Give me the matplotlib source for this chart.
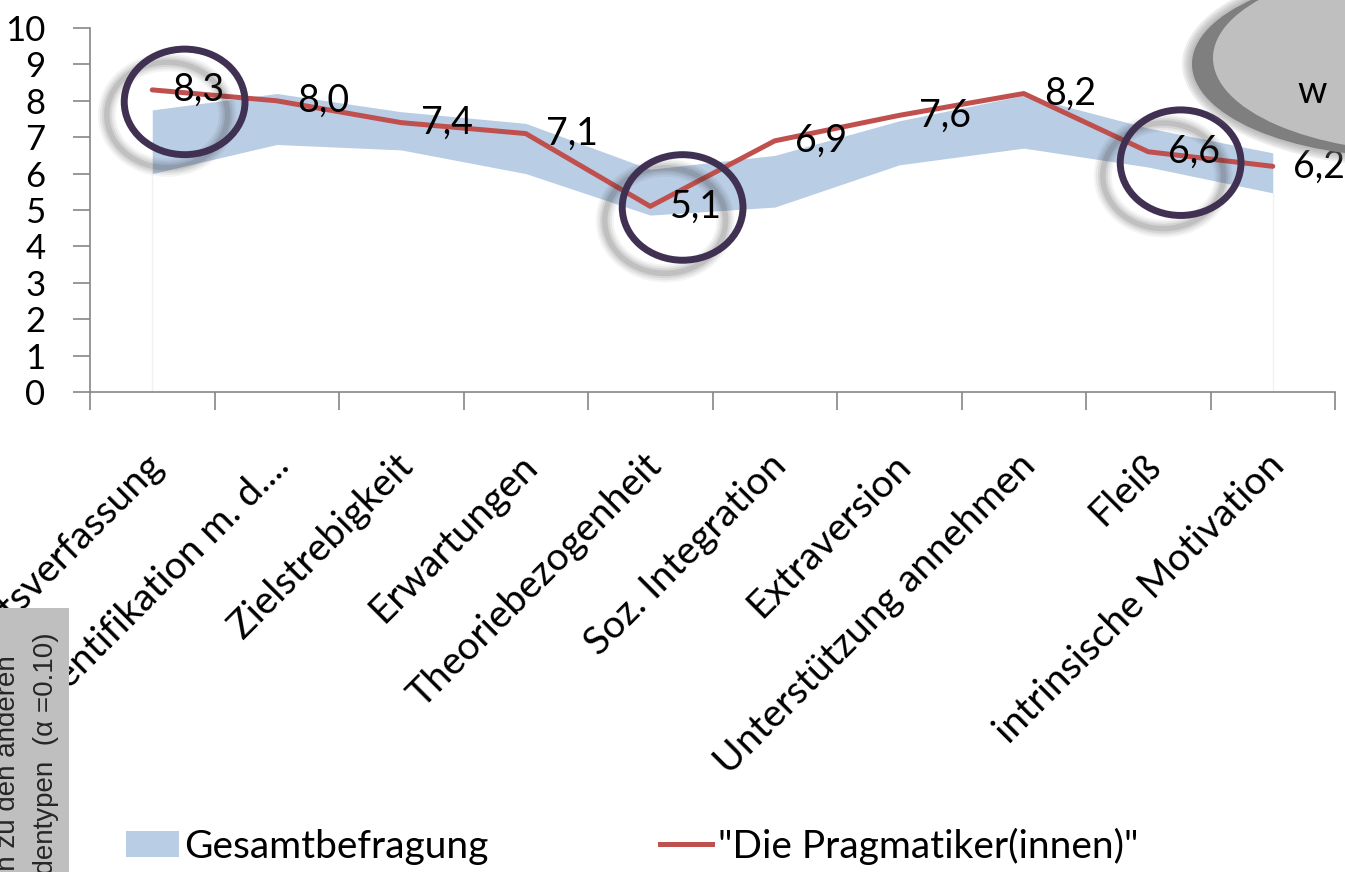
import matplotlib.pyplot as plt
import numpy as np
from matplotlib.patches import Ellipse, Rectangle, Patch
from matplotlib.lines import Line2D

plt.rcParams['font.family'] = ['Lato', 'DejaVu Sans']

categories = ["Arbeitsverfassung", "Identifikation m. d....", "Zielstrebigkeit",
              "Erwartungen", "Theoriebezogenheit", "Soz. Integration",
              "Extraversion", "Unterstützung annehmen", "Fleiß",
              "intrinsische Motivation"]
pragmatiker = [8.3, 8.0, 7.4, 7.1, 5.1, 6.9, 7.6, 8.2, 6.6, 6.2]
gesamt_low = [6.0, 6.8, 6.65, 6.0, 4.86, 5.08, 6.24, 6.7, 6.18, 5.47]
gesamt_high = [7.75, 8.2, 7.7, 7.38, 6.12, 6.5, 7.45, 8.15, 7.25, 6.57]
highlight = [0, 4, 8]
ring_y = [7.97, 5.07, 6.30]

W, H = 1345, 872
fig = plt.figure(figsize=(W / 100, H / 100), dpi=100)
ax = fig.add_axes([90 / W, 1 - 392 / H, 1245 / W, 364 / H])

x = np.arange(len(categories))
band_col = '#B9CDE5'
line_col = '#C0504D'
grey = '#868686'

ax.fill_between(x, gesamt_low, gesamt_high, color=band_col, lw=0, zorder=1)
ax.vlines([x[0], x[-1]], 0, [gesamt_low[0], gesamt_low[-1]], color='#f0f0f6', lw=1, zorder=1)
ax.plot(x, pragmatiker, color=line_col, lw=3.6, zorder=3, solid_capstyle='round')

for i, v in enumerate(pragmatiker):
    ax.annotate(f"{v:.1f}".replace('.', ','), xy=(i, v), xytext=(20, 0),
                textcoords='offset pixels', ha='left', va='center', fontsize=27, zorder=4)

ax.set_xlim(-0.5, len(categories) - 0.5)
ax.set_ylim(0, 10)
ax.set_yticks(range(0, 11))
ax.tick_params(axis='y', length=12, width=1.2, color=grey, pad=20, labelsize=25)
ax.set_xticks(np.arange(-0.5, len(categories), 1))
ax.set_xticklabels([])
ax.tick_params(axis='x', length=13, width=1.2, color=grey)
for side in ['top', 'right']:
    ax.spines[side].set_visible(False)
for side in ['left', 'bottom']:
    ax.spines[side].set_color(grey)
    ax.spines[side].set_linewidth(1.2)

for i, lab in enumerate(categories):
    ax.annotate(lab, xy=(i, 0), xycoords=('data', 'axes fraction'), xytext=(14, -76),
                textcoords='offset pixels', rotation=45, rotation_mode='anchor',
                ha='right', va='baseline', fontsize=28, annotation_clip=False)

# highlight rings with soft shadow
for i, yc in zip(highlight, ring_y):
    cx = i + 0.26
    for lw, a in [(13, 0.05), (10, 0.07), (7, 0.09), (4, 0.12)]:
        ax.add_patch(Ellipse((cx - 0.14, yc - 0.36), 0.97, 2.9, fill=False,
                             ec='#303030', lw=lw, alpha=a, clip_on=False, zorder=5))
    ax.add_patch(Ellipse((cx, yc), 0.97, 2.9, fill=False, ec='#403152', lw=5,
                         clip_on=False, zorder=6))

handles = [Patch(facecolor=band_col, edgecolor='none'),
           Line2D([0], [0], color=line_col, lw=3.6)]
fig.legend(handles, ["Gesamtbefragung", '"Die Pragmatiker(innen)"'],
           loc='center left', bbox_to_anchor=(126 / W, 1 - 846 / H), ncol=2,
           frameon=False, fontsize=28, handlelength=1.35, handleheight=0.65,
           handletextpad=0.15, columnspacing=4.4, borderpad=0, borderaxespad=0)

# overlay: slide shapes around the chart
ov = fig.add_axes([0, 0, 1, 1], zorder=10)
ov.set_xlim(0, W)
ov.set_ylim(H, 0)
ov.axis('off')
ov.patch.set_alpha(0)

ov.add_patch(Ellipse((1407, 64), 430, 186, color='#7f7f7f', lw=0))
for k in range(1, 6):
    ov.add_patch(Ellipse((1407, 64), 430 + 4 * k, 186 + 4 * k, color='#7f7f7f',
                         alpha=0.13, lw=0))
ov.add_patch(Ellipse((1430, 58), 434, 189, color='#BFBFBF', lw=0))
ov.text(1312, 92, "w", fontsize=27, ha='center', va='center')

ov.add_patch(Rectangle((0, 608), 69, 264, color='#BFBFBF', lw=0))
ov.text(15, 655, "Abweichungen zu den anderen", rotation=90, rotation_mode='anchor',
        ha='right', va='baseline', fontsize=20, family='Liberation Sans', color='#262626')
ov.text(53, 632, "Studierendentypen  (α =0.10)", rotation=90, rotation_mode='anchor',
        ha='right', va='baseline', fontsize=20, family='Liberation Sans', color='#262626')

fig.savefig('out.png', dpi=100)
